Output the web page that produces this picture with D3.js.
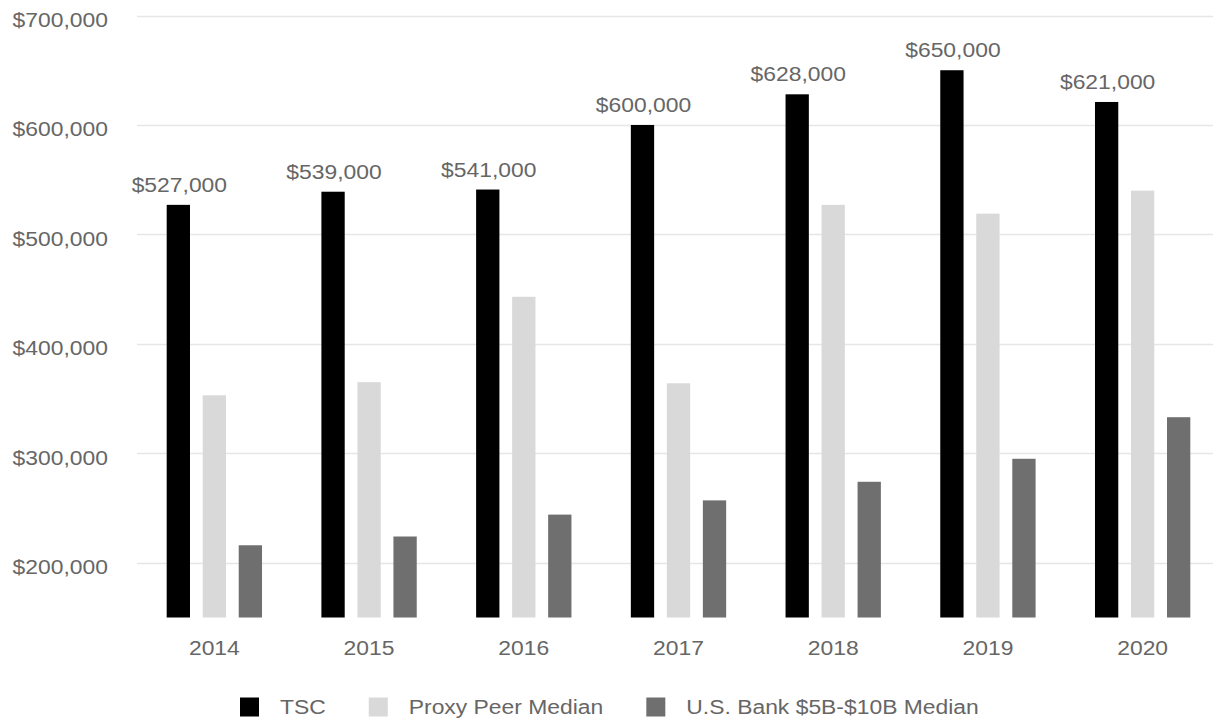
<!DOCTYPE html>
<html>
<head>
<meta charset="utf-8">
<script src="https://cdn.jsdelivr.net/npm/d3@7"></script>
<style>
  body { margin: 0; background: #fff; }
  svg text { font-family: "Liberation Sans", Arial, sans-serif; fill: #666; font-size: 21px; }
</style>
</head>
<body>
<div id="chart"></div>
<script>
const years = ["2014", "2015", "2016", "2017", "2018", "2019", "2020"];
const seriesNames = ["TSC", "Proxy Peer Median", "U.S. Bank $5B-$10B Median"];
const tsc = [527000, 539000, 541000, 600000, 628000, 650000, 621000];
const proxyPeer = [353000, 365000, 443000, 364000, 527000, 519000, 540000];
const usBank = [216000, 224000, 244000, 257000, 274000, 295000, 333000];
const yTicks = [200000, 300000, 400000, 500000, 600000, 700000];
const colors = ["#000000", "#d9d9d9", "#6f6f6f"];

const width = 1213, height = 721;
const stretch = 1.09; // the original type runs a bit wide

const svg = d3.select("#chart")
  .append("svg")
  .attr("width", width)
  .attr("height", height);

const series = [tsc, proxyPeer, usBank];
const rows = years.map((yr, i) => ({ year: yr, values: series.map(s => s[i]) }));

// place a text at (x,y), stretched horizontally around its anchor
const at = (x, y) => `translate(${x},${y}) scale(${stretch},1)`;

// scales
const x0 = d3.scaleBand()
  .domain(years)
  .range([137, 1220])
  .paddingInner(0.3)
  .paddingOuter(0.15);

const x1 = d3.scaleBand()
  .domain(d3.range(seriesNames.length))
  .range([0, x0.bandwidth()])
  .paddingInner(0.353)
  .paddingOuter(0.18);

const y = d3.scaleLinear()
  .domain([150000, 700000])
  .range([617.5, 15.5]);

const fmt = d3.format("$,");

// gridlines
svg.append("g")
  .selectAll("line")
  .data(yTicks)
  .join("line")
  .attr("x1", 137)
  .attr("x2", width)
  .attr("y1", d => Math.round(y(d)) + 0.5)
  .attr("y2", d => Math.round(y(d)) + 0.5)
  .attr("stroke", "#e6e6e6")
  .attr("stroke-width", 1.5);

// y labels
svg.append("g")
  .selectAll("text")
  .data(yTicks)
  .join("text")
  .attr("transform", d => at(108, y(d) + 4))
  .attr("dy", "0.35em")
  .attr("text-anchor", "end")
  .text(fmt);

// bars
const groups = svg.append("g")
  .selectAll("g")
  .data(rows)
  .join("g")
  .attr("transform", d => `translate(${x0(d.year)},0)`);

groups.selectAll("rect")
  .data(d => d.values.map((v, k) => ({ k, v })))
  .join("rect")
  .attr("x", d => x1(d.k))
  .attr("width", x1.bandwidth())
  .attr("y", d => y(d.v))
  .attr("height", d => y(150000) - y(d.v))
  .attr("fill", d => colors[d.k]);

// value labels above TSC bars
groups.append("text")
  .attr("transform", d => at(x1(0) + x1.bandwidth() / 2 + 1, y(d.values[0]) - 13))
  .attr("text-anchor", "middle")
  .text(d => fmt(d.values[0]));

// x labels
svg.append("g")
  .selectAll("text")
  .data(years)
  .join("text")
  .attr("transform", d => at(x0(d) + x0.bandwidth() / 2, 655))
  .attr("text-anchor", "middle")
  .text(d => d);

// legend
const legend = svg.append("g").attr("transform", "translate(240,707)");
const sq = 19;
let lx = 0;
seriesNames.forEach((name, k) => {
  const item = legend.append("g").attr("transform", `translate(${lx},0)`);
  item.append("rect")
    .attr("x", 0)
    .attr("y", -sq / 2)
    .attr("width", sq)
    .attr("height", sq)
    .attr("fill", colors[k]);
  const t = item.append("text")
    .attr("transform", at(sq + 21, 0))
    .attr("dy", "0.35em")
    .text(name);
  lx += sq + 21 + t.node().getComputedTextLength() * stretch + 43;
});
</script>
</body>
</html>
